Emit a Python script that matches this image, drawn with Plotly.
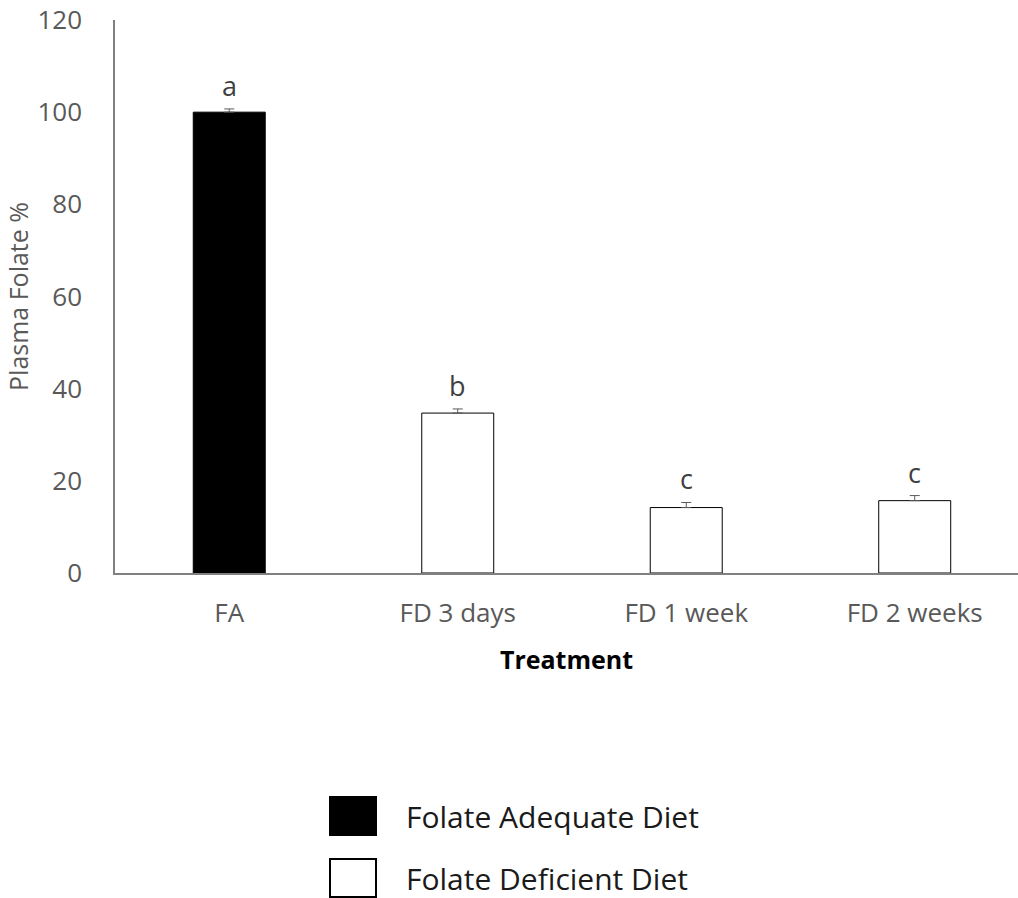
import plotly.graph_objects as go

categories = ["FA", "FD 3 days", "FD 1 week", "FD 2 weeks"]
values = [100.0, 34.7, 14.2, 15.7]
errors = [0.7, 0.9, 1.1, 1.1]
letters = ["a", "b", "c", "c"]
groups = ["Folate Adequate Diet", "Folate Deficient Diet", "Folate Deficient Diet", "Folate Deficient Diet"]
y_ticks = [0, 20, 40, 60, 80, 100, 120]
legend_items = ["Folate Adequate Diet", "Folate Deficient Diet"]

fill = {"Folate Adequate Diet": "#000000", "Folate Deficient Diet": "#ffffff"}
idx = list(range(len(categories)))

W, H = 1018, 898
L, T, B = 115, 20, 325
PW, PH = W - L, H - T - B

def px(x):
    return (x - L) / PW

def py(y):
    return (T + PH - y) / PH

fig = go.Figure()
fig.add_trace(go.Bar(
    x=idx, y=values,
    width=0.315,
    marker=dict(color=[fill[g] for g in groups], line=dict(color="#000000", width=1)),
    error_y=dict(type="data", symmetric=False, array=errors, arrayminus=[0] * len(errors),
                 visible=True, color="#595959", thickness=1, width=5),
    showlegend=False,
))

for i, (v, e, l) in enumerate(zip(values, errors, letters)):
    fig.add_annotation(x=i, y=v + e, text=l, showarrow=False, yanchor="bottom", yshift=3,
                       font=dict(family="Open Sans", size=27, color="#404040"))

# custom legend
leg_y = [816, 878]
for name, yc in zip(legend_items, leg_y):
    fig.add_shape(type="rect", xref="paper", yref="paper",
                  x0=px(330), x1=px(376),
                  y0=py(yc + 19), y1=py(yc - 19),
                  fillcolor=fill[name], line=dict(color="#000000", width=2))
    fig.add_annotation(xref="paper", yref="paper",
                       x=px(404), y=py(yc),
                       text=name, showarrow=False, xanchor="left", yanchor="middle",
                       font=dict(family="Open Sans", size=30, color="#1a1a1a"))

fig.update_layout(
    width=W, height=H,
    margin=dict(l=L, r=0, t=T, b=B),
    plot_bgcolor="#ffffff", paper_bgcolor="#ffffff",
    font=dict(family="Open Sans", color="#595959", size=26),
    xaxis=dict(
        range=[-0.5, 3.452], tickvals=idx, ticktext=categories,
        showline=True, linecolor="#808080", linewidth=1.5, ticks="", showgrid=False, zeroline=False,
        tickfont=dict(size=26, color="#595959"), ticklabelstandoff=16,
        title=dict(text="<b>Treatment</b>", font=dict(size=25, color="#000000"), standoff=23),
    ),
    yaxis=dict(
        range=[0, 120], tickvals=y_ticks,
        showline=True, linecolor="#808080", linewidth=1.5, ticks="", showgrid=False, zeroline=False,
        tickfont=dict(size=26, color="#595959"), ticklabelstandoff=26,
        title=dict(text="Plasma Folate %", font=dict(size=25, color="#595959"), standoff=2),
    ),
)

fig.write_html("out.html", config={"displayModeBar": False},
               post_script="document.body.style.margin='0';")
